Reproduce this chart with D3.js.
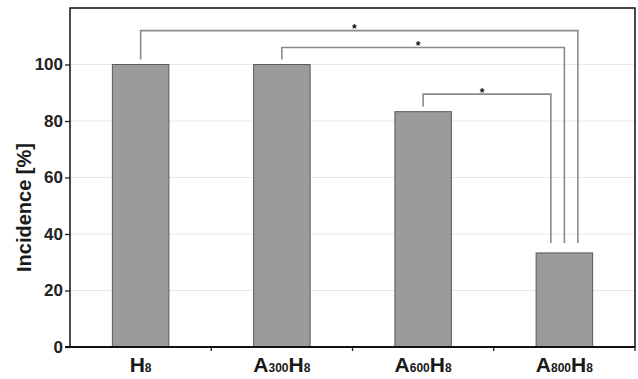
<!DOCTYPE html>
<html>
<head>
<meta charset="utf-8">
<script src="https://cdn.jsdelivr.net/npm/d3@7"></script>
<style>
  html, body { margin: 0; padding: 0; background: #fff; }
  svg { display: block; font-family: Arial, "Liberation Sans", Helvetica, sans-serif; }
</style>
</head>
<body>
<svg id="chart" width="638" height="379"></svg>
<script>
// ---- data ----
const categories = ["H8", "A300H8", "A600H8", "A800H8"];
const labelParts = [
  [["H", false], ["8", true]],
  [["A", false], ["300", true], ["H", false], ["8", true]],
  [["A", false], ["600", true], ["H", false], ["8", true]],
  [["A", false], ["800", true], ["H", false], ["8", true]]
];
const incidence = [100, 100, 83.3, 33.3];
const yTicks = [0, 20, 40, 60, 80, 100];
const yTitle = "Incidence [%]";
// significance comparisons: from category -> to category, bracket level (in %)
const compFrom = ["H8", "A300H8", "A600H8"];
const compTo = ["A800H8", "A800H8", "A800H8"];
const compLevel = [112, 106, 89.5];
const compMark = ["*", "*", "*"];

// ---- layout ----
const svg = d3.select("#chart");
const margin = { left: 70, top: 8, right: 3, bottom: 32 };
const W = 638, H = 379;
const x0 = margin.left, x1 = W - margin.right, y0 = margin.top, y1 = H - margin.bottom;

const x = d3.scaleBand().domain(categories).range([x0, x1]).paddingInner(0.6).paddingOuter(0.3);
const y = d3.scaleLinear().domain([0, 120]).range([y1, y0]);
const step = x.step();

// gridlines
svg.append("g").selectAll("line").data(yTicks.filter(d => d > 0).concat([120]))
  .join("line")
  .attr("x1", x0).attr("x2", x1)
  .attr("y1", d => y(d)).attr("y2", d => y(d))
  .attr("stroke", "#e9e9e9").attr("stroke-width", 1);

// bars
svg.append("g").selectAll("rect").data(categories)
  .join("rect")
  .attr("x", d => x(d))
  .attr("y", (d, i) => y(incidence[i]))
  .attr("width", x.bandwidth())
  .attr("height", (d, i) => y(0) - y(incidence[i]))
  .attr("fill", "#9b9b9b")
  .attr("stroke", "#5a5a5a")
  .attr("stroke-width", 1);

// significance brackets
const bg = svg.append("g");
compFrom.forEach((f, i) => {
  const fi = categories.indexOf(f), ti = categories.indexOf(compTo[i]);
  const xl = x(f) + x.bandwidth() / 2;
  const xr = x(compTo[i]) + x.bandwidth() / 2 + (1 - i) * 13.5;
  const yl = y(compLevel[i]);
  const ylBottom = y(incidence[fi]) - 5;
  const yrBottom = y(incidence[ti]) - 10;
  bg.append("path")
    .attr("d", `M${xl},${ylBottom}V${yl}H${xr}V${yrBottom}`)
    .attr("fill", "none")
    .attr("stroke", "#8a8a8a")
    .attr("stroke-width", 1.6);
  bg.append("text")
    .attr("x", (xl + xr) / 2 - 5)
    .attr("y", yl + 2.5)
    .attr("text-anchor", "middle")
    .attr("font-size", 12)
    .attr("font-weight", "bold")
    .attr("fill", "#111")
    .text(compMark[i]);
});

// y axis
const yAxis = svg.append("g")
  .attr("transform", `translate(${x0},0)`)
  .call(d3.axisLeft(y).tickValues(yTicks).tickSize(5).tickPadding(2).tickFormat(d3.format("d")));
yAxis.select(".domain").remove();
yAxis.selectAll(".tick line").attr("stroke", "#222").attr("stroke-width", 1.3);
yAxis.selectAll(".tick text")
  .attr("font-size", 17).attr("font-weight", "bold").attr("fill", "#222")
  .attr("font-family", "Arial, 'Liberation Sans', sans-serif");

// x axis ticks between categories
const bounds = d3.range(1, categories.length + 1).map(k => x0 + k * step);
svg.append("g").selectAll("line").data(bounds)
  .join("line")
  .attr("x1", d => d).attr("x2", d => d)
  .attr("y1", y1).attr("y2", y1 + 4)
  .attr("stroke", "#222").attr("stroke-width", 1.3);

// x labels with subscripts
const xl = svg.append("g");
categories.forEach((c, i) => {
  const t = xl.append("text")
    .attr("x", x(c) + x.bandwidth() / 2)
    .attr("y", H - 7)
    .attr("text-anchor", "middle")
    .attr("font-weight", "bold")
    .attr("fill", "#1a1a1a");
  labelParts[i].forEach(([s, sub]) => {
    t.append("tspan").attr("font-size", sub ? 12 : 21).text(s);
  });
});

// frame
svg.append("rect")
  .attr("x", x0).attr("y", y0)
  .attr("width", x1 - x0).attr("height", y1 - y0)
  .attr("fill", "none").attr("stroke", "#111").attr("stroke-width", 1.5);
svg.append("line")
  .attr("x1", x0 - 5).attr("x2", x1)
  .attr("y1", y1).attr("y2", y1)
  .attr("stroke", "#111").attr("stroke-width", 2);

// y title
svg.append("text")
  .attr("transform", `translate(31,${(y0 + y1) / 2 + 30}) rotate(-90)`)
  .attr("text-anchor", "middle")
  .attr("font-size", 20)
  .attr("font-weight", "bold")
  .attr("fill", "#1a1a1a")
  .text(yTitle);
</script>
</body>
</html>
